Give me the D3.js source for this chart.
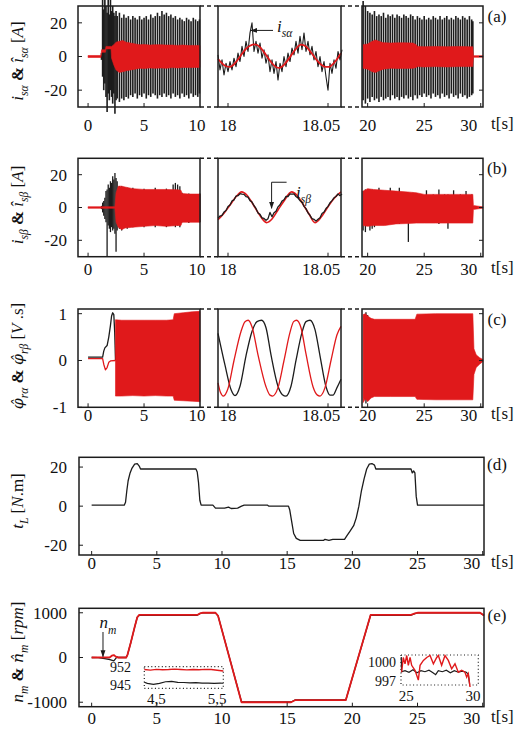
<!DOCTYPE html>
<html>
<head>
<meta charset="utf-8">
<script src="https://cdn.jsdelivr.net/npm/d3@7"></script>
<style>
  body { margin: 0; background: #fff; }
  svg text { font-family: "Liberation Serif", "Times New Roman", serif; fill: #111; }
</style>
</head>
<body>
<div id="chart"></div>
<script>
(function(d3) {
  'use strict';

  var BLACK = '#1c1c1c', RED = '#e0191b';

  // tick values for the three time windows and the full time axis
  var ticksW1 = [0, 5, 10];
  var ticksW2 = [18, 18.05];
  var ticksW3 = [20, 25, 30];
  var ticksFull = [0, 5, 10, 15, 20, 25, 30];

  // ---------- (a) i_s_alpha : bands are [t, min, max], lines are [t, value] ----------
  var isaW1 = [[1.2,-2,2],[1.3,-12,34],[1.4,-20,28],[1.5,-16,34],[1.6,-24,30],[1.7,-33,26],[1.8,-22,34],[1.9,-26,25],[2.0,-20,34],[2.1,-24,27],[2.2,-28,30],[2.3,-22,26],[2.4,-34,24],[2.5,-26,27],[2.6,-25,24],[2.8,-27,26],[3.0,-25,23],[3.2,-26,25],[3.4,-24,23],[3.6,-25,24],[3.8,-23,22],[4.0,-24,24],[4.2,-22,23],[4.4,-25,22],[4.6,-23,24],[4.8,-24,22],[5.0,-22,23],[5.2,-25,24],[5.4,-23,22],[5.6,-24,25],[5.8,-22,23],[6.0,-23,24],[6.2,-25,26],[6.4,-23,24],[6.6,-24,27],[6.8,-22,25],[7.0,-24,26],[7.2,-23,24],[7.4,-25,25],[7.6,-22,23],[7.8,-24,24],[8.0,-23,22],[8.2,-25,23],[8.4,-22,22],[8.6,-24,21],[8.8,-23,23],[9.0,-25,22],[9.2,-22,21],[9.4,-24,23],[9.6,-23,22],[9.8,-24,21],[9.95,-22,22]];
  var isaHatW1 = [[0,-0.6,0.6],[1.15,-0.6,0.6],[1.2,2.5,4],[1.55,2.5,4],[1.6,4.5,6],[2.05,4.5,6],[2.1,-1,6],[2.3,-5,7],[2.5,-8,8.5],[2.8,-9.5,9],[3.1,-9,9.5],[3.4,-8.5,8.5],[3.8,-8,8],[4.2,-7.5,7.5],[4.6,-7,7],[5,-7.2,7.2],[5.5,-6.8,6.8],[6,-7,7],[6.5,-6.8,7],[7,-7,6.8],[7.5,-6.6,6.8],[8,-6.8,6.6],[8.5,-6.5,6.8],[9,-6.6,6.5],[9.5,-6.5,6.6],[10,-6.5,6.5]];
  var isaW2 = [[17.995,1],[17.996,-8],[17.997,-2],[17.998,-11],[17.999,-4],[18.000,-9],[18.001,-3],[18.002,-8],[18.003,-1],[18.004,-6],[18.005,2],[18.006,-3],[18.007,6],[18.008,0],[18.009,9],[18.010,3],[18.011,14],[18.012,20],[18.013,3],[18.014,9],[18.015,2],[18.016,8],[18.017,-1],[18.018,4],[18.019,-4],[18.020,1],[18.021,-9],[18.022,-2],[18.023,-10],[18.024,-3],[18.025,-14],[18.026,-4],[18.027,-9],[18.028,0],[18.029,-6],[18.030,2],[18.031,-3],[18.032,5],[18.033,1],[18.034,9],[18.035,2],[18.036,12],[18.037,4],[18.038,14],[18.039,3],[18.040,9],[18.041,1],[18.042,6],[18.043,-2],[18.044,3],[18.045,-6],[18.046,0],[18.047,-9],[18.048,-3],[18.049,-12],[18.050,-20],[18.051,-4],[18.052,-10],[18.053,-2],[18.054,-7],[18.055,3],[18.056,-2],[18.057,4]];
  var isaHatW2 = [[17.995,-1.5],[17.997,-4],[17.999,-5.8],[18.001,-6.2],[18.003,-4.6],[18.005,-1.8],[18.007,1.6],[18.009,4.6],[18.011,6.4],[18.0135,7.2],[18.016,5.6],[18.018,2.6],[18.020,-0.8],[18.022,-4],[18.024,-6.2],[18.0257,-6.8],[18.028,-5],[18.030,-2],[18.032,1.4],[18.034,4.6],[18.0365,7],[18.039,6],[18.041,3.2],[18.043,0],[18.045,-3],[18.047,-5.2],[18.049,-6.2],[18.0505,-6.2],[18.052,-5],[18.054,-2.4],[18.0565,2]];
  var isaW3 = [[19.6,-26,33],[19.8,-28,30],[20.0,-25,27],[20.2,-27,26],[20.4,-24,25],[20.6,-26,27],[20.8,-25,24],[21.0,-27,25],[21.2,-24,24],[21.4,-26,26],[21.6,-25,23],[21.8,-24,25],[22.0,-26,24],[22.2,-23,25],[22.4,-25,23],[22.6,-24,25],[22.8,-26,24],[23.0,-24,23],[23.2,-25,25],[23.4,-23,24],[23.6,-25,23],[23.8,-24,25],[24.0,-26,24],[24.2,-23,22],[24.4,-25,24],[24.6,-23,23],[24.8,-24,22],[25.0,-22,24],[25.2,-24,22],[25.4,-23,23],[25.6,-25,22],[25.8,-22,24],[26.0,-24,23],[26.2,-23,22],[26.4,-25,24],[26.6,-22,22],[26.8,-24,23],[27.0,-23,24],[27.2,-25,22],[27.4,-22,23],[27.6,-24,22],[27.8,-23,24],[28.0,-25,23],[28.2,-22,22],[28.4,-24,24],[28.6,-23,23],[28.8,-25,22],[29.0,-24,24],[29.2,-23,22],[29.3,-22,21]];
  var isaHatW3 = [[19.6,-7,7],[20.0,-7.5,7.5],[20.4,-9,9],[20.7,-9.5,9.8],[21.0,-8.5,9],[21.4,-7.5,8.2],[22,-7,8],[23,-7.2,8.2],[24,-7,8],[24.3,-6.5,7],[24.4,-6,6],[25,-6.2,5.8],[26,-6,6],[27,-6.2,5.8],[28,-6,6],[29,-6,5.8],[29.3,-6,5.8],[29.35,-0.5,0.5],[30.2,-0.5,0.5]];

  // ---------- (b) i_s_beta ----------
  var isbW1 = [[1.2,-1,1],[1.3,-3,3],[1.4,-5,4],[1.5,-7,6],[1.6,-9,10],[1.7,-30,11],[1.8,-11,14],[1.9,-13,12],[2.0,-15,16],[2.1,-12,15],[2.2,-14,19],[2.3,-13,17],[2.4,-16,21],[2.5,-27,18],[2.6,-14,16],[2.8,-13,13],[3.0,-14,13],[3.5,-13,12],[4.0,-12,12],[5.0,-12,11.5],[6.0,-12,12],[7.0,-12,11.5],[7.6,-11,14],[7.8,-12,15],[8.0,-11,14],[8.2,-12,13],[8.4,-9,9],[9.0,-9.5,8.5],[10,-9,8.5]];
  var isbHatW1 = [[0,-0.5,0.5],[2.4,-0.5,0.5],[2.5,-9,9],[2.7,-12,13],[3.0,-13.5,13],[3.3,-12.5,12.5],[4,-12,11.5],[5,-11.5,11],[6,-11,11],[7,-11.5,11],[8,-11,10.8],[8.3,-11,10.5],[8.4,-9,8.5],[9,-9,8.2],[10,-9,8.2]];
  var isbW2 = [[17.995,-6.5],[17.996,-5.2],[17.997,-4.8],[17.998,-2.8],[17.999,-1.8],[18.000,0.6],[18.001,1.5],[18.002,4],[18.003,4.6],[18.004,7],[18.005,7.2],[18.006,8.4],[18.007,8.1],[18.008,8],[18.009,6.6],[18.010,6.3],[18.011,4.2],[18.012,3.3],[18.013,1.1],[18.014,-0.6],[18.015,-3.3],[18.016,-4.2],[18.017,-6.3],[18.018,-6.7],[18.019,-7.8],[18.020,-6.8],[18.021,-3],[18.022,-5.6],[18.023,-3.2],[18.024,-2.3],[18.025,0.4],[18.026,1.7],[18.027,3.9],[18.028,4.7],[18.029,6.8],[18.030,6.7],[18.031,8.3],[18.032,8.2],[18.033,8.3],[18.034,6.7],[18.035,5.8],[18.036,4.2],[18.037,3.3],[18.038,0.7],[18.039,-0.7],[18.040,-3.3],[18.041,-4.7],[18.042,-6.8],[18.043,-7.2],[18.044,-8.3],[18.045,-7.2],[18.046,-6.3],[18.047,-3.7],[18.048,-2.8],[18.049,-0.6],[18.050,0.7],[18.051,2.9],[18.052,4.2],[18.053,5.9],[18.054,6.7],[18.055,8.3],[18.056,7.2],[18.057,8.3]];
  var isbHatW2 = [[17.995,-7.5],[17.998,-3.5],[18.001,1.5],[18.004,6.5],[18.0068,9.5],[18.0095,7.5],[18.0125,2],[18.0155,-4],[18.0193,-9.2],[18.022,-7],[18.025,-1.5],[18.028,4],[18.0318,9.5],[18.0345,7.5],[18.0375,2],[18.0405,-4],[18.0435,-9.2],[18.0465,-6],[18.0495,-0.5],[18.053,5.5],[18.0565,9.5]];
  var isbW3 = [[19.6,-14,10],[19.8,-15,11],[20.0,-11,11],[20.2,-14,11],[20.4,-13,11],[20.6,-12,10],[21.0,-10,12],[21.5,-10,10],[22.0,-10,12],[22.5,-9,9],[22.8,-10,12],[23.2,-9,9],[23.6,-21,9],[24.0,-9,9],[24.6,-9,8],[25.2,-9,10.5],[25.8,-9,8],[26.3,-10,11],[26.8,-9,8],[27.1,-13,8],[27.6,-9,10.5],[28.2,-9,8],[28.7,-9,10],[29.2,-9,8]];
  var isbHatW3 = [[19.6,-11,10],[20,-11.5,11.5],[20.5,-11,11],[21.5,-11,10.5],[22.5,-10,10],[23.5,-9.8,9.5],[24.3,-9.5,9],[25,-9.5,8],[26,-9.5,8],[27,-9.5,8],[28,-9.5,8],[29.3,-9.5,8],[29.35,-1.2,1.2],[29.8,-0.8,0.8],[30.2,-0.4,0.4]];

  // ---------- (c) rotor flux estimates ----------
  var phiAW1 = [[0,0.07],[1.3,0.07],[1.4,0.2],[1.5,0.27],[1.7,0.32],[1.85,0.5],[2.0,0.75],[2.1,0.95],[2.2,1.02],[2.3,0.98],[2.38,0.6],[2.45,0]];
  var phiBW1Start = [[0,0.04],[1.3,0.04],[1.4,-0.08],[1.55,-0.2],[1.7,-0.15],[1.85,-0.04],[2.0,-0.01],[2.45,0]];
  var phiBW1 = [[2.45,-0.76,0.87],[3,-0.76,0.86],[4,-0.75,0.86],[5,-0.76,0.86],[6,-0.75,0.86],[7,-0.76,0.86],[7.6,-0.76,0.87],[7.7,-0.85,1.0],[8.5,-0.86,1.02],[9.3,-0.87,1.04],[10,-0.88,1.05]];
  var phiAW2 = [[17.995,0.58],[17.9985,-0.1],[18.0015,-0.62],[18.0035,-0.75],[18.006,-0.55],[18.009,0.1],[18.012,0.62],[18.0145,0.83],[18.0168,0.86],[18.019,0.7],[18.0215,0.12],[18.025,-0.55],[18.0272,-0.73],[18.029,-0.76],[18.0315,-0.55],[18.034,0.0],[18.037,0.6],[18.039,0.83],[18.041,0.86],[18.0435,0.66],[18.046,0.1],[18.049,-0.56],[18.051,-0.74],[18.0525,-0.74],[18.0545,-0.58],[18.0565,-0.4]];
  var phiBW2 = [[17.995,-0.48],[17.9962,-0.68],[17.9977,-0.76],[18.0,-0.6],[18.003,0.0],[18.0065,0.62],[18.0085,0.83],[18.0101,0.86],[18.012,0.72],[18.015,0.12],[18.019,-0.56],[18.021,-0.74],[18.0223,-0.76],[18.025,-0.58],[18.028,0.0],[18.031,0.6],[18.0328,0.83],[18.0343,0.86],[18.0365,0.7],[18.039,0.14],[18.0425,-0.56],[18.0447,-0.74],[18.046,-0.76],[18.0485,-0.58],[18.0515,0.0],[18.0545,0.55],[18.0565,0.73]];
  var phiAW3 = [[19.7,-0.8,0.95],[19.85,-0.92,1.03],[20.0,-0.85,0.97]];
  var phiBW3 = [[19.6,-0.9,0.98],[19.8,-0.82,1.0],[20.0,-0.88,0.95],[20.3,-0.8,0.9],[20.6,-0.77,0.88],[22,-0.77,0.88],[24.2,-0.77,0.88],[24.35,-0.83,0.99],[26,-0.84,1.0],[28,-0.84,1.0],[29.3,-0.84,1.0],[29.4,-0.3,0.25],[29.6,-0.15,0.12],[29.9,-0.08,0.06],[30.2,-0.02,0.02]];

  // ---------- (d) load torque ----------
  var tLoad = [[0,0.5],[2.5,0.5],[2.6,2],[2.7,8],[2.8,13],[2.95,17],[3.1,19.5],[3.3,21.5],[3.5,21.8],[3.65,20.5],[3.75,19],[8.0,19],[8.1,17.5],[8.2,12],[8.3,3],[8.4,0.5],[9.3,0.5],[9.5,-1],[10.2,-1],[10.5,-0.5],[10.7,-1.2],[11.2,-1],[11.5,0],[11.7,0.5],[13.5,0.5],[13.6,0],[15.1,0],[15.2,-2],[15.35,-8],[15.5,-14],[15.7,-16.5],[16.0,-17.5],[17.8,-17.5],[17.9,-17],[18.2,-17.5],[18.5,-17],[19.4,-17],[19.6,-15],[19.8,-13],[20.1,-10],[20.3,-6],[20.5,0],[20.7,8],[20.9,14],[21.1,19],[21.3,21.5],[21.5,21.8],[21.7,21],[21.8,19],[24.5,19],[24.6,17],[24.7,18],[24.8,17],[24.9,5],[25.0,0.5],[30.1,0.5]];

  // ---------- (e) speed ----------
  var nm = [[0,0],[0.5,-3],[1.0,-25],[1.4,-45],[1.7,-75],[1.95,15],[2.05,0],[2.65,0],[2.75,60],[3.0,330],[3.3,680],[3.5,900],[3.65,945],[8.1,945],[8.3,980],[8.5,997],[9.5,997],[9.7,930],[11.5,-995],[15.3,-995],[15.6,-950],[19.5,-950],[21.4,945],[24.5,945],[24.8,980],[25.0,997],[29.8,997],[30.1,940]];
  var nmHat = [[0,0],[1.4,5],[1.55,40],[1.7,55],[1.85,20],[2.0,0],[2.65,0],[2.75,60],[3.0,330],[3.3,680],[3.5,900],[3.65,952],[8.1,952],[8.3,985],[8.5,1000],[9.5,1000],[9.7,930],[11.5,-1000],[15.3,-1000],[15.6,-955],[19.5,-952],[21.4,952],[24.5,952],[24.8,985],[25.0,1000],[29.8,1000],[30.1,940]];
  var nmZoom1 = [[4.3,945.2],[4.35,944.6],[4.45,944.1],[4.55,944.6],[4.65,945.5],[4.75,945.7],[4.85,945.2],[4.95,945.1],[5.05,944.9],[5.15,945],[5.25,944.8],[5.35,944.8],[5.45,944.6],[5.55,944.8],[5.6,944.7]];
  var nmHatZoom1 = [[4.3,952],[4.4,951.7],[4.5,952.1],[4.6,951.9],[4.7,952],[4.8,952.2],[4.9,952],[5.0,951.8],[5.1,952],[5.2,951.9],[5.3,952.1],[5.4,952],[5.5,951.6],[5.6,951.2]];
  var nmZoom2 = [[24.62,1001.4],[24.64,998.4],[24.9,998.6],[25.2,998.3],[25.5,998.8],[25.8,998.2],[26.1,998.6],[26.4,998.4],[26.7,998.7],[27.0,998.2],[27.2,997.8],[27.4,998.6],[27.7,998.4],[28.0,998.7],[28.3,998.2],[28.6,998.6],[28.9,998.3],[29.2,998.5],[29.5,998.3],[29.65,997.9],[29.75,995.8]];
  var nmHatZoom2 = [[24.65,998.3],[24.77,1001.3],[24.9,1000],[25.03,1001.7],[25.15,999.7],[25.28,1001.3],[25.4,999.7],[25.65,998.7],[25.9,996.7],[26.03,999.7],[26.28,1000.7],[26.53,1001.3],[26.78,1001.7],[27.03,1000],[27.28,1001.3],[27.4,1001.7],[27.65,999.7],[27.9,1001.7],[28.15,1000.7],[28.4,999],[28.65,1000],[28.9,998.3],[29.15,998.7],[29.4,998.3],[29.53,997.3],[29.65,998],[29.78,995.3]];

  // ---------- layout ----------
  var winSplit = [
    { range: [78, 200], domain: [-0.9, 10], ticks: ticksW1, lastDx: -3 },
    { range: [218, 341], domain: [17.995, 18.0565], ticks: ticksW2, lastDx: -7 },
    { range: [362, 483], domain: [19.5, 30.2], ticks: ticksW3, lastDx: -12 }
  ];
  var winFull = [{ range: [79, 484], domain: [-0.97, 30.1], ticks: ticksFull, lastDx: -11 }];

  var sub = function(t) { return { t: t, it: 1, sub: 1 }; };
  var hatPhi = { t: 'φ\u0302', it: 1, f: '"DejaVu Serif"' };
  var panels = [
    { tag: '(a)', top: 6, bottom: 107, yDomain: [-30, 30], yTicks: [-20, 0, 20], wins: winSplit, labelY: 131, titleY: 61,
      title: [{ t: 'i', it: 1 }, sub('sα'), { t: ' & ', b: 1 }, { t: 'î', it: 1 }, sub('sα'), { t: ' [' }, { t: 'A', it: 1 }, { t: ']' }],
      series: [
        [{ band: isaW1, color: BLACK, w: 1.6 }, { area: isaHatW1, color: RED }],
        [{ line: isaW2, color: BLACK, w: 1.1 }, { line: isaHatW2, color: RED, w: 1.8, smooth: true }],
        [{ band: isaW3, color: BLACK, w: 1.6 }, { area: isaHatW3, color: RED }]
      ] },
    { tag: '(b)', top: 158.3, bottom: 256.7, yDomain: [-30, 30], yTicks: [-20, 0, 20], wins: winSplit, labelY: 275, titleY: 205,
      title: [{ t: 'i', it: 1 }, sub('sβ'), { t: ' & ', b: 1 }, { t: 'î', it: 1 }, sub('sβ'), { t: ' [' }, { t: 'A', it: 1 }, { t: ']' }],
      series: [
        [{ band: isbW1, color: BLACK }, { area: isbHatW1, color: RED }],
        [{ line: isbHatW2, color: RED, w: 1.6, smooth: true }, { line: isbW2, color: BLACK, w: 1.3 }],
        [{ band: isbW3, color: BLACK }, { area: isbHatW3, color: RED }]
      ] },
    { tag: '(c)', top: 309, bottom: 407.3, yDomain: [-1, 1.1], yTicks: [-1, 0, 1], wins: winSplit, labelY: 421, titleY: 356,
      title: [hatPhi, sub('rα'), { t: ' & ', b: 1 }, hatPhi, sub('rβ'), { t: ' [' }, { t: 'V', it: 1 }, { t: ' .s]' }],
      series: [
        [{ line: phiAW1, color: BLACK, w: 1.3 }, { line: phiBW1Start, color: RED, w: 1.3 }, { area: phiBW1, color: RED }],
        [{ line: phiAW2, color: BLACK, w: 1.3, smooth: true }, { line: phiBW2, color: RED, w: 1.3, smooth: true }],
        [{ band: phiAW3, color: BLACK }, { area: phiBW3, color: RED }]
      ] },
    { tag: '(d)', top: 457.3, bottom: 555, yDomain: [-25, 25], yTicks: [-20, 0, 20], wins: winFull, labelY: 569, titleY: 501,
      title: [{ t: 't', it: 1 }, sub('L'), { t: ' [' }, { t: 'N', it: 1 }, { t: '.m]' }],
      series: [[{ line: tLoad, color: BLACK, w: 1.3 }]] },
    { tag: '(e)', top: 608.3, bottom: 706.7, yDomain: [-1100, 1100], yTicks: [-1000, 0, 1000], wins: winFull, labelY: 724, titleY: 652,
      title: [{ t: 'n', it: 1 }, sub('m'), { t: ' & ', b: 1 }, { t: 'n\u0302', it: 1, f: '"DejaVu Serif"' }, sub('m'), { t: ' [' }, { t: 'rpm', it: 1 }, { t: ']' }],
      series: [[{ line: nm, color: BLACK, w: 1.3 }, { line: nmHat, color: RED, w: 1.8 }]] }
  ];

  var svg = d3.select('#chart').append('svg').attr('width', 521).attr('height', 734);
  var defs = svg.append('defs');
  defs.append('marker').attr('id', 'arrow').attr('viewBox', '0 0 10 10')
    .attr('refX', 9).attr('refY', 5).attr('markerWidth', 7).attr('markerHeight', 7).attr('orient', 'auto')
    .append('path').attr('d', 'M0,1.5L10,5L0,8.5Z').attr('fill', BLACK);

  function richText(text, parts, size) {
    var down = false;
    parts.forEach(function(p) {
      var ts = text.append('tspan').text(p.t);
      if (p.it) ts.attr('font-style', 'italic');
      if (p.b) ts.attr('font-weight', 'bold');
      if (p.f) ts.attr('font-family', p.f).attr('font-size', size * 0.92);
      if (p.sub) {
        ts.attr('font-size', size * 0.68);
        if (!down) { ts.attr('dy', size * 0.3); down = true; }
      } else if (down) {
        ts.attr('dy', -size * 0.3); down = false;
      }
    });
  }

  function drawSeries(g, s, x, y) {
    if (s.band) {
      g.append('g').selectAll('line').data(s.band).enter().append('line')
        .attr('x1', function(d) { return x(d[0]); }).attr('x2', function(d) { return x(d[0]); })
        .attr('y1', function(d) { return y(d[1]); }).attr('y2', function(d) { return y(d[2]); })
        .attr('stroke', s.color).attr('stroke-width', s.w || 1.3);
    } else if (s.area) {
      g.append('path').datum(s.area)
        .attr('d', d3.area().x(function(d) { return x(d[0]); })
          .y0(function(d) { return y(d[1]); }).y1(function(d) { return y(d[2]); }))
        .attr('fill', s.color).attr('stroke', s.color).attr('stroke-width', 0.6);
    } else if (s.line) {
      g.append('path').datum(s.line)
        .attr('d', d3.line().curve(s.smooth ? d3.curveMonotoneX : d3.curveLinear)
          .x(function(d) { return x(d[0]); }).y(function(d) { return y(d[1]); }))
        .attr('fill', 'none').attr('stroke', s.color).attr('stroke-width', s.w || 1.3)
        .attr('stroke-linejoin', 'round');
    }
  }

  panels.forEach(function(p) {
    var g = svg.append('g');
    var y = d3.scaleLinear().domain(p.yDomain).range([p.bottom, p.top]);

    p.wins.forEach(function(w, wi) {
      var x = d3.scaleLinear().domain(w.domain).range(w.range);
      var wg = g.append('g');
      p.series[wi].forEach(function(s) { drawSeries(wg, s, x, y); });

      wg.append('rect')
        .attr('x', w.range[0]).attr('y', p.top)
        .attr('width', w.range[1] - w.range[0]).attr('height', p.bottom - p.top)
        .attr('fill', 'none').attr('stroke', BLACK).attr('stroke-width', 1.5);

      // inward ticks on the bottom edge
      wg.selectAll('line.xt').data(w.ticks.filter(function(v) { return x(v) < w.range[1] - 1; }))
        .enter().append('line')
        .attr('x1', function(v) { return x(v); }).attr('x2', function(v) { return x(v); })
        .attr('y1', p.bottom).attr('y2', p.bottom - 4)
        .attr('stroke', BLACK).attr('stroke-width', 1);

      wg.selectAll('text.xl').data(w.ticks).enter().append('text')
        .attr('x', function(v, i) {
          var px = Math.min(x(v), w.range[1]);
          return i === w.ticks.length - 1 ? px + w.lastDx : px;
        })
        .attr('y', p.labelY).attr('text-anchor', 'middle').attr('font-size', 17)
        .text(function(v) { return String(v); });

      if (wi === 0 || wi === p.wins.length - 1) {
        var edge = wi === 0 ? w.range[0] : w.range[1];
        var dir = wi === 0 ? 1 : -1;
        wg.selectAll('line.yt' + wi).data(p.yTicks).enter().append('line')
          .attr('x1', edge).attr('x2', edge + dir * 4)
          .attr('y1', function(v) { return y(v); }).attr('y2', function(v) { return y(v); })
          .attr('stroke', BLACK).attr('stroke-width', 1);
      }
    });

    // dashed connectors between the time windows
    for (var i = 0; i < p.wins.length - 1; i++) {
      [p.top, p.bottom].forEach(function(yy) {
        g.append('line')
          .attr('x1', p.wins[i].range[1]).attr('x2', p.wins[i + 1].range[0])
          .attr('y1', yy).attr('y2', yy)
          .attr('stroke', BLACK).attr('stroke-width', 1.5).attr('stroke-dasharray', '4,3');
      });
    }

    g.selectAll('text.yl').data(p.yTicks).enter().append('text')
      .attr('x', 67).attr('y', function(v) { return y(v); }).attr('dy', '0.35em')
      .attr('text-anchor', 'end').attr('font-size', 17)
      .text(function(v) { return String(v); });

    var title = g.append('text')
      .attr('transform', 'translate(23,' + p.titleY + ') rotate(-90)')
      .attr('text-anchor', 'middle').attr('font-size', 17);
    richText(title, p.title, 17);

    g.append('text').attr('x', 497).attr('y', p.top + (p.wins.length > 1 ? 16 : 13))
      .attr('text-anchor', 'middle').attr('font-size', 17).text(p.tag);
    g.append('text').attr('x', 491).attr('y', p.labelY - 2).attr('font-size', 17).text('t[s]');

    p.y = y;
  });

  // ---------- annotations ----------
  var xa2 = d3.scaleLinear().domain(winSplit[1].domain).range(winSplit[1].range);
  var ya = panels[0].y, yb = panels[1].y;

  var t1 = svg.append('text').attr('x', xa2(18.0245)).attr('y', ya(14.5)).attr('font-size', 17);
  richText(t1, [{ t: 'i', it: 1 }, sub('sα')], 17);
  svg.append('line').attr('x1', xa2(18.0225)).attr('x2', xa2(18.0115))
    .attr('y1', ya(15.5)).attr('y2', ya(15.5))
    .attr('stroke', BLACK).attr('stroke-width', 1).attr('marker-end', 'url(#arrow)');

  var t2 = svg.append('text').attr('x', xa2(18.034)).attr('y', yb(6)).attr('font-size', 17);
  richText(t2, [{ t: 'i', it: 1 }, sub('sβ')], 17);
  svg.append('path')
    .attr('d', 'M' + xa2(18.0293) + ',' + yb(15.4) + 'H' + xa2(18.0218) + 'V' + yb(-0.5))
    .attr('fill', 'none').attr('stroke', BLACK).attr('stroke-width', 1).attr('marker-end', 'url(#arrow)');

  // speed panel: n_m marker and zoom insets
  var xe = d3.scaleLinear().domain(winFull[0].domain).range(winFull[0].range);
  var ye = panels[4].y;
  var tn = svg.append('text').attr('x', xe(0.6)).attr('y', ye(650)).attr('font-size', 17);
  richText(tn, [{ t: 'n', it: 1 }, sub('m')], 17);
  svg.append('line').attr('x1', xe(0.87)).attr('x2', xe(0.87))
    .attr('y1', ye(570)).attr('y2', ye(20))
    .attr('stroke', BLACK).attr('stroke-width', 1).attr('marker-end', 'url(#arrow)');

  function inset(opts) {
    var x = d3.scaleLinear().domain(opts.xDomain).range(opts.xRange);
    var y = d3.scaleLinear().domain(opts.yDomain).range(opts.yRange);
    var g = svg.append('g');
    g.append('rect').attr('x', opts.xRange[0]).attr('y', opts.yRange[1])
      .attr('width', opts.xRange[1] - opts.xRange[0]).attr('height', opts.yRange[0] - opts.yRange[1])
      .attr('fill', 'none').attr('stroke', BLACK).attr('stroke-width', 1.2).attr('stroke-dasharray', '1,2.5');
    var line = d3.line().x(function(d) { return x(d[0]); }).y(function(d) { return y(d[1]); });
    g.append('path').datum(opts.black).attr('d', line).attr('fill', 'none').attr('stroke', BLACK).attr('stroke-width', 1.2);
    g.append('path').datum(opts.red).attr('d', line).attr('fill', 'none').attr('stroke', RED).attr('stroke-width', 1.4);
    g.selectAll('text.iy').data(opts.yTicks).enter().append('text')
      .attr('x', opts.yLabelX).attr('y', function(v) { return y(v); })
      .attr('dy', function(v, i) { return i === 0 ? '0.2em' : '0.55em'; })
      .attr('text-anchor', 'end').attr('font-size', 14).text(function(v) { return String(v); });
    g.selectAll('text.ix').data(opts.xTicks).enter().append('text')
      .attr('x', function(v) { return x(v); }).attr('y', opts.yRange[0] + 16)
      .attr('text-anchor', 'middle').attr('font-size', 15)
      .text(function(v) { return String(v).replace('.', ','); });
  }

  inset({ xDomain: [4.3, 5.6], xRange: [144.3, 223.3], yDomain: [942, 953.5], yRange: [688.3, 666.7],
    black: nmZoom1, red: nmHatZoom1, yTicks: [952, 945], xTicks: [4.5, 5.5], yLabelX: 131 });
  inset({ xDomain: [24.6, 30.4], xRange: [401, 478.3], yDomain: [995.7, 1001.8], yRange: [685, 655],
    black: nmZoom2, red: nmHatZoom2, yTicks: [1000, 997], xTicks: [25, 30], yLabelX: 396 });
}(d3));
</script>
</body>
</html>
